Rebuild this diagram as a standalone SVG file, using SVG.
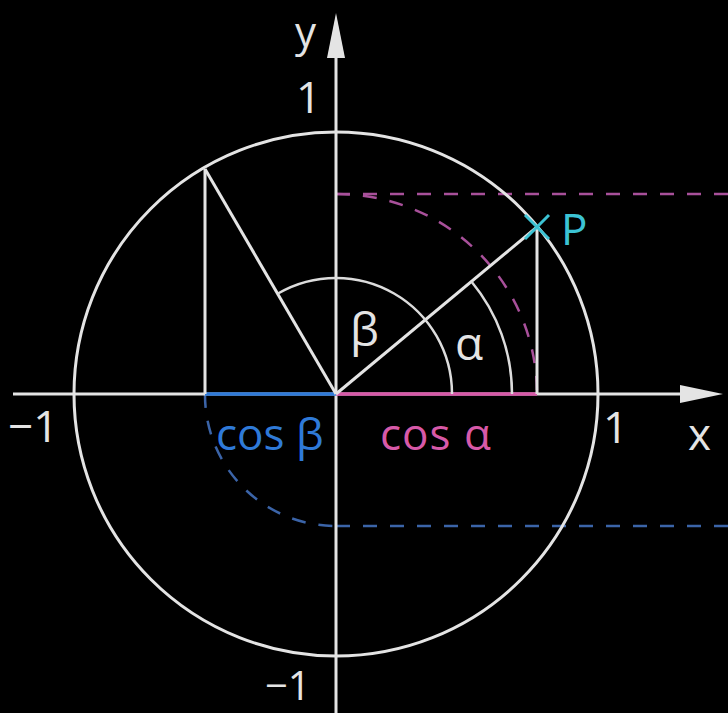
<svg xmlns="http://www.w3.org/2000/svg" width="728" height="713" viewBox="0 0 728 713">
<defs>
<style>
.ln{fill:none;stroke:#e4e4e4;stroke-width:3}
.th{fill:none;stroke:#dcdcdc;stroke-width:2.5}
.pd{fill:none;stroke:#a8509a;stroke-width:2.5;stroke-dasharray:14 13}
.bd{fill:none;stroke:#3b64a8;stroke-width:2.5;stroke-dasharray:14 13}
.t{font-family:"Open Sans","Liberation Sans",sans-serif;font-size:44px;fill:#e4e4e4}
.pk{fill:#d759a8}
.bl{fill:#2f7ad8}
.cy{fill:#3cc3d4}
</style>
</defs>
<rect width="728" height="713" fill="#000"/>
<g id="dashed">
<path class="pd" d="M336,194 H728"/>
<path class="pd" d="M336,194 A200,200 0 0 1 537,394"/>
<path class="bd" d="M336,526 H728"/>
<path class="bd" d="M205,394 A131,131 0 0 0 336,526"/>
</g>
<g id="circle">
<circle class="ln" cx="336" cy="394" r="262"/>
</g>
<g id="axes">
<path class="ln" d="M13,394 H684"/>
<polygon points="680,385 723,394 680,403" fill="#e4e4e4"/>
<path class="ln" d="M336,713 V55"/>
<polygon points="327,58 336,13 345,58" fill="#e4e4e4"/>
</g>
<g id="segments">
<path d="M205,394 H336" fill="none" stroke="#2f7ad8" stroke-width="3.5"/>
<path d="M336,394 H537" fill="none" stroke="#d759a8" stroke-width="3.5"/>
</g>
<g id="lines">
<path class="ln" d="M205,169 V394"/>
<path class="ln" d="M205,169 L336,394"/>
<path class="ln" d="M336,394 L537,227"/>
<path class="ln" d="M537,227 V394"/>
</g>
<g id="angles">
<path class="th" d="M452,394 A116,116 0 0 0 278,293.5"/>
<path class="th" d="M512,394 A176,176 0 0 0 471.4,281.5"/>
</g>
<g id="point-P">
<path d="M525,215 L549,239 M549,215 L525,239" stroke="#3cc3d4" stroke-width="3" fill="none"/>
<text class="t cy" x="561" y="245">P</text>
</g>
<g id="labels">
<text class="t" x="295" y="47" style="font-size:42px">y</text>
<text class="t" x="296" y="113">1</text>
<text class="t" x="8" y="442">−1</text>
<text class="t" x="603" y="443">1</text>
<text class="t" x="688" y="450">x</text>
<text class="t" x="265" y="700" style="font-size:40px">−1</text>
<text class="t" x="350" y="346" style="font-size:46px">β</text>
<text class="t" x="455" y="360" style="font-size:46px">α</text>
<text class="t bl" x="216" y="450">cos β</text>
<text class="t pk" x="380" y="450" style="letter-spacing:1px">cos α</text>
</g>
</svg>
